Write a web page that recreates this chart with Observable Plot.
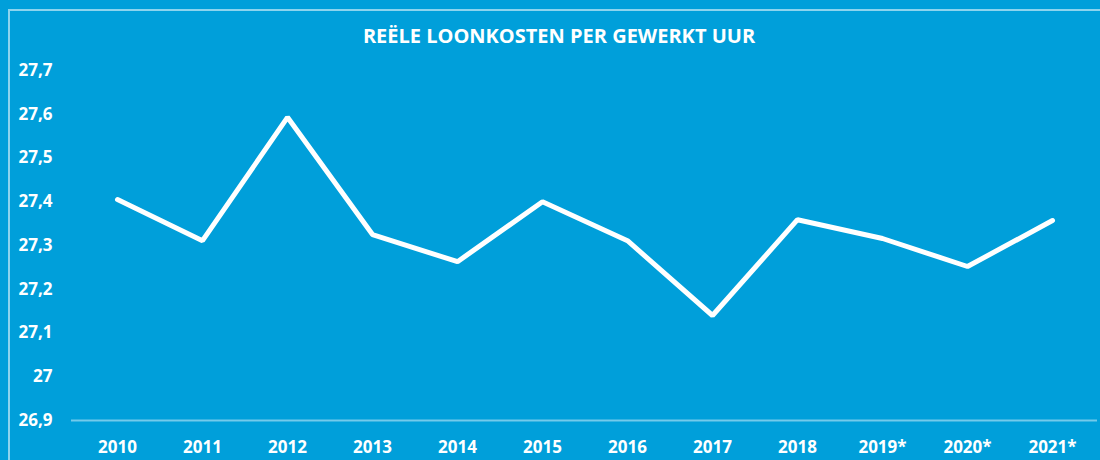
<!DOCTYPE html>
<html><head><meta charset="utf-8">
<script src="https://cdn.jsdelivr.net/npm/d3@7"></script>
<script src="https://cdn.jsdelivr.net/npm/@observablehq/plot@0.6"></script>
<style>
html,body{margin:0;padding:0;background:#009fda;}
#wrap{position:relative;width:1100px;height:460px;background:#009fda;overflow:hidden;font-family:"Open Sans",sans-serif;}
#frame{position:absolute;left:8px;top:9px;right:-5px;bottom:-5px;border-top:2px solid rgba(255,255,255,0.55);border-left:2px solid rgba(255,255,255,0.55);}
#title{position:absolute;top:24px;left:0;width:1118px;text-align:center;color:#fff;font-weight:700;font-size:20px;line-height:24px;}
#chart{position:absolute;left:0;top:50px;}
</style>
</head><body>
<div id="wrap"><div id="frame"></div><div id="title">REËLE LOONKOSTEN PER GEWERKT UUR</div><div id="chart"></div></div>
<script>
const years = ["2010","2011","2012","2013","2014","2015","2016","2017","2018","2019*","2020*","2021*"];
const values = [27.405, 27.311, 27.593, 27.325, 27.263, 27.400, 27.311, 27.140, 27.359, 27.316, 27.252, 27.357];
const yTicks = [26.9, 27.0, 27.1, 27.2, 27.3, 27.4, 27.5, 27.6, 27.7];
const title = "REËLE LOONKOSTEN PER GEWERKT UUR";

const data = years.map((year, i) => ({year, value: values[i]}));

const chart = Plot.plot({
  width: 1100, height: 410,
  marginTop: 20, marginBottom: 40, marginLeft: 71, marginRight: 3,
  style: {background: "transparent", color: "#fff", fontFamily: "Open Sans, sans-serif", fontSize: "17px", fontWeight: 700, overflow: "visible"},
  x: {type: "point", domain: years, padding: 0.5, label: null, tickSize: 0, tickPadding: 20},
  y: {domain: [26.9, 27.7], ticks: yTicks, tickFormat: d => String(+d.toFixed(1)).replace(".", ","), label: null, tickSize: 0, tickPadding: 19},
  marks: [
    Plot.ruleY([26.9], {stroke: "#fff", strokeOpacity: 0.45, strokeWidth: 2}),
    Plot.line(data, {x: "year", y: "value", stroke: "#fff", strokeWidth: 5, strokeLinecap: "round", strokeLinejoin: "miter"})
  ]
});
document.getElementById("chart").appendChild(chart);
</script>
</body></html>
